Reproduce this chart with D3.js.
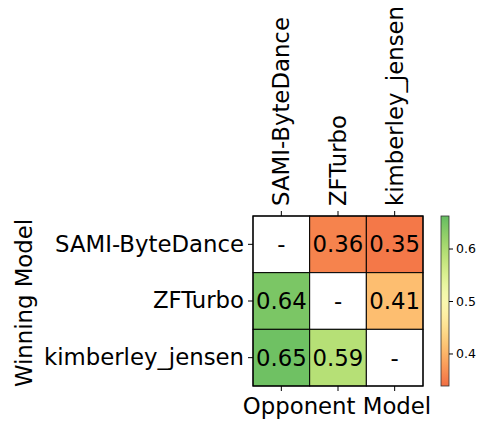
<!DOCTYPE html>
<html><head><meta charset="utf-8">
<script src="https://cdn.jsdelivr.net/npm/d3@7"></script>
<style>body{margin:0;background:#fff}svg{display:block}svg text{font-family:"DejaVu Sans",sans-serif}</style>
</head><body><svg id="c" width="484" height="423"></svg>
<script>
const models = ["SAMI-ByteDance", "ZFTurbo", "kimberley_jensen"];
// win rate of row model (winner) vs column model (opponent); null on the diagonal
const winRates = [
  [null, 0.356, 0.347],
  [0.644, null, 0.41],
  [0.653, 0.59, null]
];
const cbTicks = [0.4, 0.5, 0.6];
const vmin = 0.338, vmax = 0.662;

const FS = 22.8;
const svg = d3.select("#c");
const L = 253, T = 216, S = 170;
const x = d3.scaleBand().domain(models).range([L, L + S]);
const y = d3.scaleBand().domain(models).range([T, T + S]);
const norm = d3.scaleLinear().domain([vmin, vmax]).range([0.2, 0.8]).clamp(true);
const color = v => d3.interpolateRdYlGn(norm(v));

const cells = [];
winRates.forEach((row, i) => row.forEach((v, j) => cells.push({r: models[i], c: models[j], v})));

const g = svg.append("g");
g.selectAll("rect").data(cells).join("rect")
  .attr("x", d => x(d.c)).attr("y", d => y(d.r))
  .attr("width", x.bandwidth()).attr("height", y.bandwidth())
  .attr("fill", d => d.v == null ? "#fff" : color(d.v))
  .attr("stroke", "#000").attr("stroke-width", 1);
g.selectAll("text").data(cells).join("text")
  .attr("x", d => x(d.c) + x.bandwidth() / 2)
  .attr("y", d => y(d.r) + y.bandwidth() / 2)
  .attr("text-anchor", "middle").attr("dominant-baseline", "central")
  .attr("font-size", FS).attr("fill", "#000")
  .text(d => d.v == null ? "-" : d.v.toFixed(2));
g.append("rect").attr("x", L).attr("y", T).attr("width", S).attr("height", S)
  .attr("fill", "none").attr("stroke", "#000").attr("stroke-width", 1.2);

// top axis with rotated labels
const topAx = svg.append("g").attr("transform", `translate(0,${T})`)
  .call(d3.axisTop(x).tickSize(5).tickPadding(4));
topAx.select(".domain").remove();
topAx.selectAll(".tick text").attr("font-size", FS).attr("fill", "#000")
  .attr("transform", "rotate(-90)").attr("x", 10).attr("y", 0)
  .attr("dy", "0.35em").attr("text-anchor", "start");

// bottom ticks (no labels)
const botAx = svg.append("g").attr("transform", `translate(0,${T + S})`)
  .call(d3.axisBottom(x).tickSize(5).tickFormat(""));
botAx.select(".domain").remove();

// left axis
const leftAx = svg.append("g").attr("transform", `translate(${L},0)`)
  .call(d3.axisLeft(y).tickSize(5).tickPadding(4));
leftAx.select(".domain").remove();
leftAx.selectAll("text").attr("font-size", FS).attr("fill", "#000");

// axis titles
svg.append("text").attr("x", L + S / 2 - 1).attr("y", 414)
  .attr("text-anchor", "middle").attr("font-size", FS).text("Opponent Model");
svg.append("text").attr("transform", `translate(32,${T + S / 2 + 2}) rotate(-90)`)
  .attr("text-anchor", "middle").attr("font-size", FS).text("Winning Model");

// colorbar
const CBX = 441, CBW = 8;
const cy = d3.scaleLinear().domain([vmin, vmax]).range([T + S, T]);
const defs = svg.append("defs");
const grad = defs.append("linearGradient").attr("id", "cb").attr("x1", 0).attr("x2", 0).attr("y1", 1).attr("y2", 0);
d3.range(0, 1.0001, 0.05).forEach(t => grad.append("stop").attr("offset", t)
  .attr("stop-color", color(vmin + t * (vmax - vmin))));
svg.append("rect").attr("x", CBX).attr("y", T).attr("width", CBW).attr("height", S)
  .attr("fill", "url(#cb)").attr("stroke", "#333").attr("stroke-width", 0.8);
const cax = svg.append("g").attr("transform", `translate(${CBX + CBW},0)`)
  .call(d3.axisRight(cy).tickValues(cbTicks).tickFormat(d3.format(".1f")).tickSize(4).tickPadding(3));
cax.select(".domain").remove();
cax.selectAll("text").attr("font-size", 12.5).attr("fill", "#000");
svg.selectAll(".tick line").attr("stroke", "#000");
</script></body></html>
